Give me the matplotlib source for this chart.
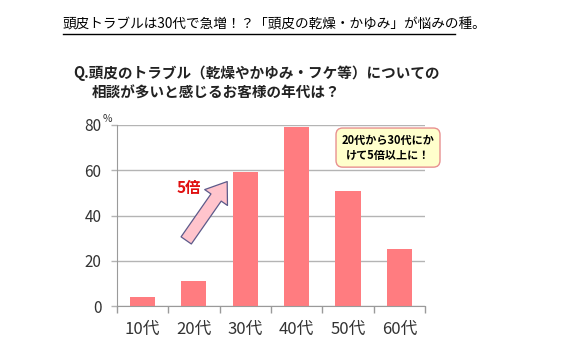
import matplotlib
matplotlib.use("Agg")
import matplotlib.pyplot as plt
from matplotlib.patches import FancyArrowPatch
from matplotlib.lines import Line2D

plt.rcParams['font.family'] = ['Noto Sans CJK JP', 'DejaVu Sans']

# data
ages = ['10代', '20代', '30代', '40代', '50代', '60代']
percent = [4, 11, 59, 79, 51, 25]
yticks = [0, 20, 40, 60, 80]

bar_color = '#ff7c80'
grid_color = '#b4b4b4'
axis_color = '#9a9a9a'

fig = plt.figure(figsize=(5.87, 3.58), dpi=100)
ax = fig.add_axes([0.199, 0.145, 0.525, 0.506])

x = list(range(len(ages)))
ax.bar(x, percent, width=0.49, color=bar_color, zorder=3)

ax.set_xlim(-0.5, len(ages) - 0.5)
ax.set_ylim(0, 80)
ax.set_yticks(yticks)
ax.yaxis.grid(True, color=grid_color, linewidth=1.0, zorder=0)
ax.tick_params(axis='y', length=4, width=1, color=grid_color, pad=7,
               labelsize=11, labelcolor='#333333')

# category labels centered, ticks on boundaries
ax.set_xticks(x)
ax.set_xticklabels(ages, fontsize=12, color='#333333')
ax.tick_params(axis='x', length=0, pad=11)
ax.set_xticks([i - 0.5 for i in range(len(ages) + 1)], minor=True)
ax.tick_params(axis='x', which='minor', length=5, color=axis_color, width=1)

for s in ['top', 'right']:
    ax.spines[s].set_visible(False)
for s in ['bottom', 'left']:
    ax.spines[s].set_color(axis_color)
    ax.spines[s].set_zorder(4)

ax.text(-0.6, 80.5, '%', fontsize=7.5, color='#333333', ha='right', va='bottom')

# titles
fig.text(0.107, 0.93, '頭皮トラブルは30代で急増！？「頭皮の乾燥・かゆみ」が悩みの種。',
         fontsize=9.8, ha='left', va='center')
fig.add_artist(Line2D([0.107, 0.775], [0.905, 0.905], color='black', linewidth=1.0))
fig.text(0.124, 0.795, 'Q.頭皮のトラブル（乾燥やかゆみ・フケ等）についての',
         fontsize=10.5, fontweight='bold', ha='left', va='center', color='#222222')
fig.text(0.157, 0.74, '相談が多いと感じるお客様の年代は？',
         fontsize=10.5, fontweight='bold', ha='left', va='center', color='#222222')

# arrow and callouts
arrow = FancyArrowPatch((0.82, 28), (1.68, 56),
                        arrowstyle='simple,head_length=14,head_width=20,tail_width=9',
                        facecolor='#ffc4cc', edgecolor='#5c5a8a', linewidth=0.9,
                        mutation_scale=1, zorder=5)
ax.add_patch(arrow)
ax.text(0.9, 52, '5倍', color='#e01010', fontsize=11, fontweight='bold',
        ha='center', va='center', zorder=6)

ax.text(4.78, 70, '20代から30代にか\nけて5倍以上に！', fontsize=8, fontweight='bold',
        ha='center', va='center', linespacing=1.2, zorder=6,
        bbox=dict(boxstyle='round,pad=0.5,rounding_size=0.6', facecolor='#ffffcc',
                  edgecolor='#e89090', linewidth=1.0))

fig.savefig('out.png', dpi=100, facecolor='white')
